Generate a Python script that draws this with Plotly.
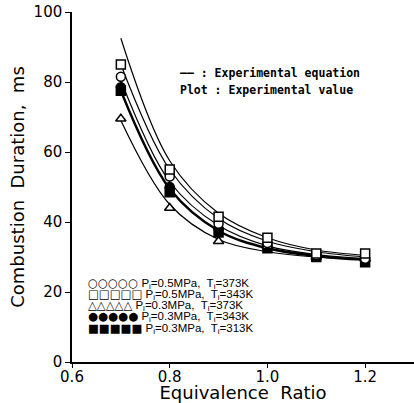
import plotly.graph_objects as go

# ---- data ----
phi = [0.7, 0.8, 0.9, 1.0, 1.1, 1.2]

# measured points
pts_circle_open = [81.5, 53.0, 39.5, 34.0, 30.5, 29.5]   # Pi=0.5MPa, Ti=373K
pts_square_open = [85.0, 55.0, 41.5, 35.5, 31.0, 31.0]   # Pi=0.5MPa, Ti=343K
pts_tri_open    = [69.5, 44.0, 34.5, 33.0, 30.0, 29.5]   # Pi=0.3MPa, Ti=373K
pts_circle_fill = [78.5, 50.0, 38.0, 33.0, 30.5, 29.0]   # Pi=0.3MPa, Ti=343K
pts_square_fill = [77.5, 48.5, 37.0, 32.5, 30.0, 28.5]   # Pi=0.3MPa, Ti=313K

# experimental-equation curves (values read at the same phi)
curve_1 = [92.5, 57.5, 42.5, 35.5, 32.0, 30.5]
curve_2 = [85.0, 55.0, 41.0, 34.5, 31.5, 30.0]
curve_3 = [80.5, 51.5, 39.0, 33.2, 30.7, 29.6]
curve_4 = [77.5, 49.5, 37.5, 32.5, 30.3, 29.2]
curve_5 = [69.0, 45.0, 35.0, 31.5, 30.0, 29.3]

legend_rows = [
    ("○○○○○", "0.5", "373"),
    ("□□□□□", "0.5", "343"),
    ("△△△△△", "0.3", "373"),
    ("●●●●●", "0.3", "343"),
    ("■■■■■", "0.3", "313"),
]

x_ticks = [0.6, 0.8, 1.0, 1.2]
x_tick_text = ["0.6", "0.8", "1.0", "1.2"]
y_ticks = [0, 20, 40, 60, 80, 100]

fig = go.Figure()

for c, w in [(curve_1, 1.2), (curve_2, 1.2), (curve_3, 1.2), (curve_4, 2.4), (curve_5, 1.2)]:
    fig.add_trace(go.Scatter(x=phi, y=c, mode="lines",
                             line=dict(color="black", width=w, shape="spline", smoothing=1.0),
                             showlegend=False, hoverinfo="skip"))

marker_specs = [
    (pts_square_fill, "square", "black"),
    (pts_circle_fill, "circle", "black"),
    (pts_tri_open, "triangle-up", "white"),
    (pts_circle_open, "circle", "white"),
    (pts_square_open, "square", "white"),
]
for ys, sym, fill in marker_specs:
    mk = dict(symbol=sym, size=9, color=fill, line=dict(color="black", width=1.5))
    fig.add_trace(go.Scatter(x=phi, y=ys, mode="markers", marker=mk,
                             showlegend=False, hoverinfo="skip"))

# legend rows (bottom-left)
for i, (sym, p, t) in enumerate(legend_rows):
    fig.add_annotation(
        x=0.0, y=0.0, xref="paper", yref="paper",
        xanchor="left", yanchor="middle",
        text=(f'<span style="font-family:DejaVu Sans">{sym}</span>'
              f" P<sub>i</sub>={p}MPa,  T<sub>i</sub>={t}K"),
        showarrow=False,
        font=dict(family="Liberation Sans", size=11.5, color="black"),
        xshift=14, yshift=79 - i * 11.3,
    )

# top-right note
fig.add_annotation(x=0.0, y=0.0, xref="paper", yref="paper", xanchor="left", yanchor="middle",
                   text="<b>—— : Experimental equation</b>", showarrow=False,
                   font=dict(family="DejaVu Sans Mono", size=11.5, color="black"),
                   xshift=106, yshift=289)
fig.add_annotation(x=0.0, y=0.0, xref="paper", yref="paper", xanchor="left", yanchor="middle",
                   text="<b>Plot : Experimental value</b>", showarrow=False,
                   font=dict(family="DejaVu Sans Mono", size=11.5, color="black"),
                   xshift=106, yshift=272)

fig.update_layout(
    width=414, height=403,
    margin=dict(l=72, r=0, t=12, b=41),
    paper_bgcolor="white", plot_bgcolor="white",
    font=dict(family="DejaVu Sans", color="black"),
    xaxis=dict(range=[0.6, 1.3], tickvals=x_ticks, ticktext=x_tick_text,
               showgrid=False, zeroline=False, showline=True, linecolor="black", linewidth=1.5,
               ticks="outside", ticklen=4, tickcolor="black",
               tickfont=dict(size=15), ticklabelstandoff=-4,
               title=dict(text="Equivalence  Ratio", font=dict(size=18), standoff=1)),
    yaxis=dict(range=[0, 100], tickvals=y_ticks,
               showgrid=False, zeroline=False, showline=True, linecolor="black", linewidth=1.5,
               ticks="outside", ticklen=5, tickcolor="black",
               tickfont=dict(size=15),
               title=dict(text="Combustion  Duration,  ms", font=dict(size=18), standoff=4)),
)

fig.write_html("out.html")
